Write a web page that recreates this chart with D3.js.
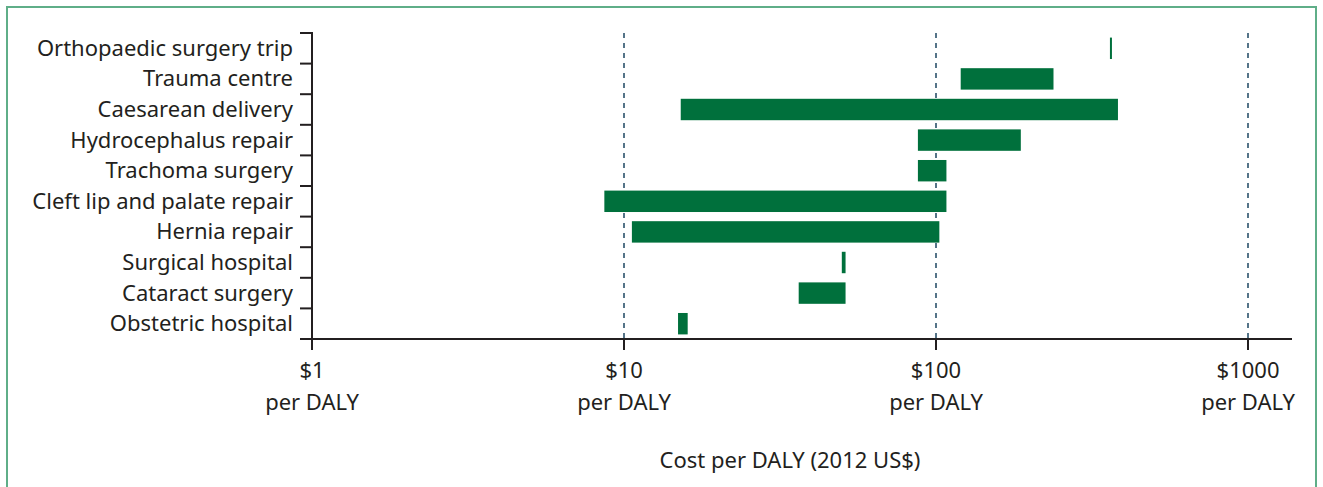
<!DOCTYPE html>
<html><head><meta charset="utf-8">
<script src="https://cdn.jsdelivr.net/npm/d3@7"></script>
<style>
html,body{margin:0;padding:0;background:#fff;}
svg{display:block;}
text{font-family:"Noto Sans",sans-serif;fill:#231f20;}
</style></head>
<body>
<svg id="chart" width="1323" height="487"></svg>
<script>
const categories = ["Orthopaedic surgery trip","Trauma centre","Caesarean delivery","Hydrocephalus repair","Trachoma surgery","Cleft lip and palate repair","Hernia repair","Surgical hospital","Cataract surgery","Obstetric hospital"];
const lowValues  = [361, 120, 15.2, 87.5, 87.5, 8.65, 10.6, 49.9, 36.3, 14.9];
const highValues = [366, 238, 383, 187, 108, 108, 102.5, 51.3, 51.3, 16.0];
const tickValues = [1, 10, 100, 1000];
const tickLabels = ["$1", "$10", "$100", "$1000"];
const axisTitle = "Cost per DALY (2012 US$)";

(function(){
const svg = d3.select("#chart");
const pL = 312, pR = 1292, pT = 33, pB = 339;
const green = "#00703c";
const fs = 22;

// frame
svg.append("path")
  .attr("d", `M7,490 V7 H1316 V490`)
  .attr("fill","none").attr("stroke","#5fae88").attr("stroke-width",2);

const x = d3.scaleLog().domain([1, Math.pow(10, (pR-pL)/312)]).range([pL, pR]);
const y = d3.scaleBand().domain(categories).range([pT, pB]).paddingInner(0.3).paddingOuter(0.15);
const yb = d3.scaleBand().domain(categories).range([pT, pB]);

// dashed grid lines
svg.append("g").selectAll("line").data(tickValues.slice(1)).join("line")
  .attr("x1", d => x(d)).attr("x2", d => x(d))
  .attr("y1", pT).attr("y2", pB)
  .attr("stroke", "#557488").attr("stroke-width", 2)
  .attr("stroke-dasharray", "5,5");

// bars
svg.append("g").selectAll("rect").data(categories).join("rect")
  .attr("x", (d,i) => x(lowValues[i]))
  .attr("width", (d,i) => Math.max(2, x(highValues[i]) - x(lowValues[i])))
  .attr("y", d => y(d))
  .attr("height", y.bandwidth())
  .attr("fill", green);

// y axis: vertical line + boundary ticks
const boundaries = categories.map(c => yb(c));
svg.append("line").attr("x1", pL).attr("x2", pL).attr("y1", pT).attr("y2", pB + 11)
  .attr("stroke", "#231f20").attr("stroke-width", 2);
svg.append("g").selectAll("line").data(boundaries).join("line")
  .attr("x1", pL - 12).attr("x2", pL + 1).attr("y1", d => d).attr("y2", d => d)
  .attr("stroke", "#231f20").attr("stroke-width", 2);

svg.append("g").selectAll("text").data(categories).join("text")
  .attr("x", pL - 19)
  .attr("y", d => yb(d) + yb.bandwidth()/2)
  .attr("dy", "0.34em")
  .attr("text-anchor", "end")
  .attr("font-size", fs)
  .text(d => d);

// x axis
svg.append("line").attr("x1", 300).attr("x2", pR).attr("y1", pB).attr("y2", pB)
  .attr("stroke", "#231f20").attr("stroke-width", 2);
const xt = svg.append("g").selectAll("g").data(tickValues).join("g")
  .attr("transform", d => `translate(${x(d)},0)`);
xt.append("line").attr("y1", pB).attr("y2", pB + 11)
  .attr("stroke", "#231f20").attr("stroke-width", 2);
xt.append("text").attr("y", 378).attr("text-anchor","middle").attr("font-size", fs)
  .text((d,i) => tickLabels[i]);
xt.append("text").attr("y", 410).attr("text-anchor","middle").attr("font-size", fs)
  .text("per DALY");

svg.append("text").attr("x", 790).attr("y", 468).attr("text-anchor","middle")
  .attr("font-size", fs).text(axisTitle);
})();
</script>
</body></html>
